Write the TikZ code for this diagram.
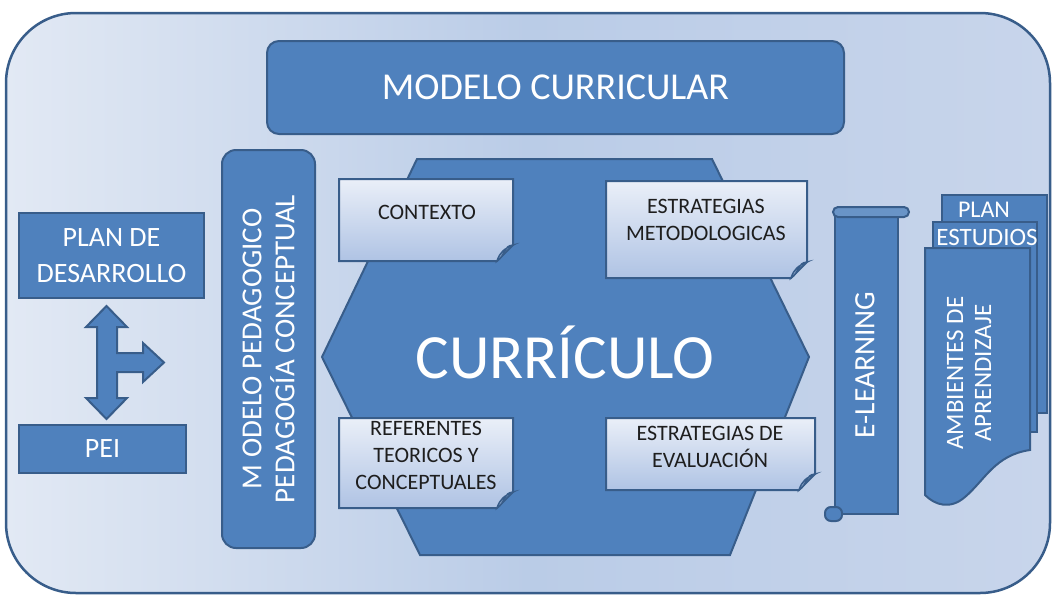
\documentclass[tikz,border=0pt]{standalone}
\usepackage{fontspec}
\setmainfont{Carlito}
\definecolor{azul}{HTML}{4F81BD}
\definecolor{borde}{HTML}{385D8A}
\definecolor{fondoclaro}{HTML}{E2E9F4}
\definecolor{fondomedio}{HTML}{BACCE7}
\definecolor{fondoder}{HTML}{C8D5EB}
\definecolor{notaclara}{HTML}{EAEFF8}
\definecolor{notaoscura}{HTML}{AFC3E4}
\definecolor{textonota}{HTML}{1E1E1E}
\newcommand\tam[2]{\fontsize{#1}{#2}\selectfont}
\begin{document}
\begin{tikzpicture}[x=1pt, y=-1pt, line width=2pt,
	bloque/.style={draw=borde, fill=azul, text=white, align=center, inner sep=0pt},
	nota/.style={draw=borde, top color=notaclara, bottom color=notaoscura},
	notatexto/.style={text=textonota, align=center, font=\tam{22}{27}},
	blanco/.style={text=white, align=center}]
	\useasboundingbox (0,0) rectangle (1053,595);
	% marco exterior
	\draw[draw=borde, line width=2.5pt, left color=fondoclaro, right color=fondoder, middle color=fondomedio, rounded corners=70pt] (6,13) rectangle (1050,593);
	% modelo curricular
	\node[bloque, minimum width=577, minimum height=93, rounded corners=12pt, font=\tam{38}{43}] (modelo) at (555.5,87.5) {MODELO CURRICULAR};
	% izquierda
	\node[bloque, minimum width=185, minimum height=85, font=\tam{28}{36}] (plan) at (111.5,255.5) {PLAN DE\\DESARROLLO};
	\node[bloque, minimum width=167, minimum height=48, font=\tam{28}{31}] (pei) at (102.5,449) {PEI};
	\draw[draw=borde, fill=azul] (106.5,306) -- (127,327) -- (117,327) -- (117,353) -- (143,353) -- (143,343) -- (164,362.5) -- (143,382) -- (143,372) -- (117,372) -- (117,398) -- (127,398) -- (106.5,419) -- (86,398) -- (97,398) -- (97,327) -- (86,327) -- cycle;
	\node[bloque, rotate=90, minimum width=398, minimum height=93, rounded corners=14pt, font=\tam{29}{33}] (pedagogico) at (268.5,349) {M ODELO PEDAGOGICO\\PEDAGOGÍA CONCEPTUAL};
	% curriculo
	\draw[draw=borde, fill=azul] (417,159) -- (712,159) -- (809,357) -- (730,555) -- (420,555) -- (322,357) -- cycle;
	\node[blanco, anchor=base, font=\tam{63}{70}] (curriculo) at (565,378) {CURRÍCULO};
	\foreach \xa/\ya/\xb/\yb in {339/179/513/261, 606/181/807/278, 339/418/513/508, 606/418/815/490}{
		\draw[nota] (\xa,\ya) -- (\xb,\ya) -- (\xb,\yb-16) -- (\xb-16,\yb) -- (\xa,\yb) -- cycle;
		\filldraw[draw=borde, fill=notaoscura!80!borde, line width=1.5pt] (\xb,\yb-16) .. controls (\xb-10,\yb-15) and (\xb-7,\yb-6) .. (\xb-16,\yb) .. controls (\xb-13,\yb-9) and (\xb-9,\yb-12) .. cycle;
	}
	\node[notatexto] (contexto) at (427,212) {CONTEXTO};
	\node[notatexto] (metodologicas) at (706,220) {ESTRATEGIAS\\METODOLOGICAS};
	\node[notatexto] (referentes) at (426,455) {REFERENTES\\TEORICOS Y\\CONCEPTUALES};
	\node[notatexto] (evaluacion) at (710,447) {ESTRATEGIAS DE\\EVALUACIÓN};
	% e-learning
	\draw[draw=borde, fill=azul] (835,212) rectangle (898,514);
	\draw[draw=borde, fill=azul!85!white, rounded corners=5pt] (833,207) rectangle (909,217);
	\draw[draw=borde, fill=azul, rounded corners=6pt] (825,507) rectangle (842,521);
	\node[blanco, rotate=90, font=\tam{29.5}{33}] (elearning) at (865,365) {E-LEARNING};
	% ambientes de aprendizaje
	\draw[draw=borde, fill=azul] (942,195) rectangle (1047,413);
	\node[blanco, font=\tam{24}{28}] (plantexto) at (984,210) {PLAN};
	\draw[draw=borde, fill=azul] (933,222) rectangle (1037,432);
	\node[blanco, font=\tam{25}{28}] (estudios) at (987,237) {ESTUDIOS};
	\draw[draw=borde, fill=azul] (925,248) -- (1030,248) -- (1030,450) .. controls (995,455) and (985,480) .. (965,497) .. controls (950,510) and (935,505) .. (925,495) -- cycle;
	\node[blanco, rotate=90, font=\tam{25}{28}] (ambientes) at (969,373) {AMBIENTES DE\\APRENDIZAJE};
\end{tikzpicture}
\end{document}
